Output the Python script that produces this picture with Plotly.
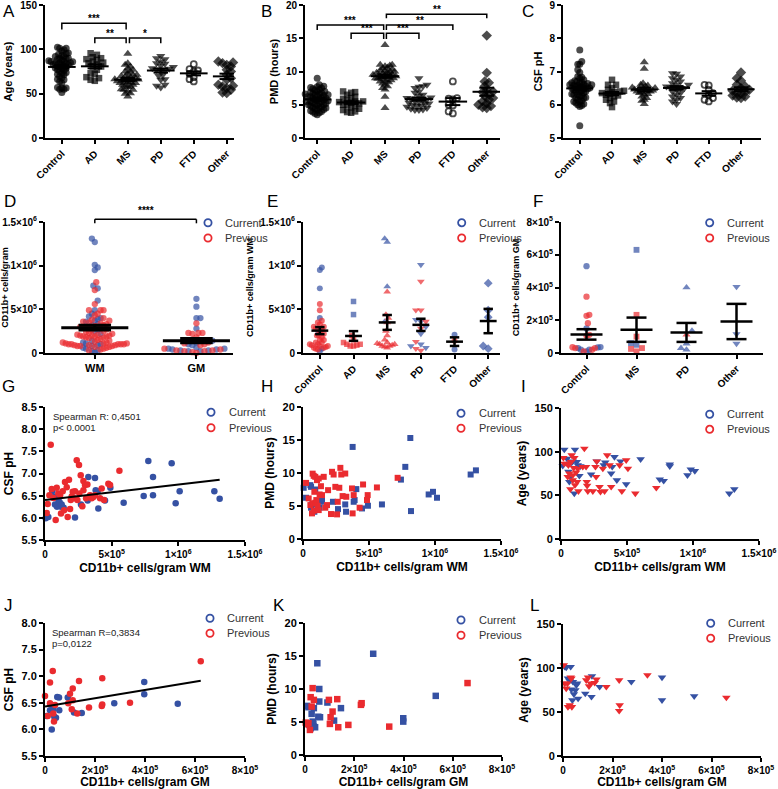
import numpy as np
import plotly.graph_objects as go

W, H = 778, 789
BLUE = "#3551a3"
RED = "#ea2b2f"
FONT = "Liberation Sans, Arial, Helvetica, sans-serif"

# ---------------- data ----------------
groups6 = ["Control", "AD", "MS", "PD", "FTD", "Other"]
groups4 = ["Control", "MS", "PD", "Other"]
regions = ["WM", "GM"]

# A: age (years)
age_control = [102.4, 101.3, 101.3, 99.4, 98, 96, 94.9, 94.5, 93, 92, 91.9, 90, 90, 89.3, 88.9, 88, 87,
               86.3, 86.3, 86, 85, 85, 84.4, 84, 83, 83, 82.5, 82.5, 81.4, 80, 79, 78.8, 78, 76.9, 76.1,
               75, 73.9, 73.1, 72, 71.3, 69.4, 68, 66.4, 65.6, 63.8, 61.9, 57, 56.3, 56.3, 55.1, 55.1, 51.4]
age_ad = [95.6, 93.8, 91.1, 90, 88.9, 88.1, 86.3, 85, 84.4, 83, 80.6, 80.6, 76.9, 73.1, 72.4, 68.6, 67.5, 65.6, 64.5]
age_ms = [94.9, 84.4, 82.5, 80.6, 78.8, 76.9, 75, 75, 73.1, 71.3, 71.3, 70, 69.4, 68.6, 68, 67, 66.4, 66,
          65.6, 65.6, 64, 63.8, 63, 62.6, 62, 61.9, 60, 60, 59, 58.1, 57.4, 55.1, 54.4, 54.4, 52.5, 50.6, 49.9, 46.9]
age_pd = [92.6, 90, 88.9, 86.3, 84.4, 83.6, 81.4, 80, 78.8, 78, 76.9, 76.1, 76.1, 71.3, 70.1, 66.4, 65.6, 60, 58.9, 57]
age_ftd = [83.3, 77.6, 76.1, 75, 72.4, 68.6, 66.4, 63.8]
age_other = [86.3, 86.3, 85.1, 84.4, 82.5, 80.6, 76.9, 75, 71.3, 67.5, 65.6, 60, 58.9, 58.1, 56.3, 54.4, 51.4, 50.6]

# B: PMD (hours)
pmd_control = [9.0, 8.0, 7.8, 7.7, 7.6, 7.5, 7.4, 7.3, 7.2, 7.0, 7.0, 6.9, 6.8, 6.7, 6.6, 6.6, 6.5, 6.5, 6.4,
               6.3, 6.2, 6.2, 6.1, 6.0, 6.0, 5.9, 5.8, 5.7, 5.6, 5.6, 5.5, 5.5, 5.4, 5.3, 5.2, 5.2, 5.1, 5.0,
               5.0, 4.9, 4.8, 4.7, 4.6, 4.5, 4.5, 4.4, 4.3, 4.2, 4.1, 4.0, 3.9, 3.8, 3.7, 3.5]
pmd_ad = [7.0, 6.9, 6.8, 6.5, 6.2, 6.0, 5.9, 5.6, 5.5, 5.5, 5.4, 5.3, 5.2, 5.0, 4.9, 4.8, 4.6, 4.4, 4.2, 4.0, 3.9, 3.8]
pmd_ms = [14.0, 11.0, 11.0, 10.9, 10.8, 10.6, 10.5, 10.3, 10.2, 10.1, 10.0, 10.0, 9.9, 9.8, 9.7, 9.6, 9.5, 9.5,
          9.4, 9.3, 9.3, 9.2, 9.1, 9.0, 9.0, 8.9, 8.8, 8.7, 8.6, 8.5, 8.4, 8.2, 8.0, 7.8, 7.5, 7.3, 6.2, 4.5]
pmd_pd = [9.0, 8.0, 7.8, 7.7, 7.5, 7.0, 6.8, 6.5, 6.3, 6.1, 6.0, 5.9, 5.8, 5.7, 5.6, 5.5, 5.3, 5.2, 5.1, 5.0,
          4.9, 4.8, 4.7, 4.5, 4.4, 4.3, 4.2, 4.2]
pmd_ftd = [8.5, 6.0, 5.9, 5.8, 5.0, 4.9, 4.0, 3.7]
pmd_other = [15.4, 9.8, 8.5, 8.3, 7.8, 7.2, 7.0, 6.9, 6.5, 6.3, 6.0, 5.8, 5.5, 5.2, 5.0, 4.8, 4.6, 4.5]

# C: CSF pH
ph_control = [7.65, 7.30, 7.22, 7.22, 7.05, 6.97, 6.85, 6.83, 6.80, 6.75, 6.72, 6.70, 6.68, 6.66, 6.65, 6.64,
              6.62, 6.60, 6.60, 6.58, 6.58, 6.56, 6.55, 6.55, 6.52, 6.50, 6.50, 6.48, 6.48, 6.45, 6.45, 6.42,
              6.40, 6.40, 6.38, 6.35, 6.32, 6.30, 6.30, 6.28, 6.25, 6.22, 6.20, 6.20, 6.15, 6.12, 6.10, 6.10,
              6.05, 6.02, 6.00, 5.98, 5.95, 5.37]
ph_ad = [6.75, 6.6, 6.6, 6.5, 6.45, 6.42, 6.4, 6.38, 6.35, 6.33, 6.3, 6.28, 6.25, 6.2, 6.15, 6.1, 6.05, 5.93]
ph_ms = [7.28, 7.08, 6.65, 6.6, 6.58, 6.55, 6.52, 6.5, 6.5, 6.48, 6.46, 6.45, 6.43, 6.42, 6.4, 6.4, 6.38, 6.35,
         6.32, 6.3, 6.25, 6.2, 6.15, 6.12, 6.02]
ph_pd = [6.95, 6.93, 6.85, 6.8, 6.75, 6.7, 6.65, 6.6, 6.6, 6.55, 6.52, 6.5, 6.5, 6.45, 6.4, 6.35, 6.3, 6.25,
         6.2, 6.15, 6.1, 6.02]
ph_ftd = [6.6, 6.58, 6.45, 6.35, 6.3, 6.2, 6.15, 6.1]
ph_other = [6.97, 6.8, 6.72, 6.6, 6.55, 6.5, 6.45, 6.42, 6.38, 6.35, 6.33, 6.28, 6.25, 6.22, 6.2]

# D: CD11b+ cells/gram, WM (x1e6) and GM (x1e5)
wm_current_e6 = [1.31, 1.27, 1.01, 0.98, 0.95, 0.77, 0.74, 0.60, 0.49, 0.45, 0.42, 0.40, 0.39, 0.37, 0.36, 0.33,
                 0.32, 0.30, 0.27, 0.25, 0.22, 0.14, 0.12, 0.11, 0.10, 0.09, 0.08, 0.06, 0.05, 0.03, 0.02, 0.01]
wm_previous_e6 = [0.81, 0.72, 0.56, 0.49, 0.49, 0.49, 0.45, 0.43, 0.40, 0.38, 0.37, 0.36, 0.35, 0.34, 0.33, 0.32,
                  0.31, 0.30, 0.30, 0.29, 0.28, 0.27, 0.26, 0.25, 0.24, 0.23, 0.22, 0.21, 0.21, 0.20, 0.20, 0.20,
                  0.19, 0.19, 0.19, 0.18, 0.18, 0.17, 0.16, 0.15, 0.14, 0.13, 0.12, 0.12, 0.11, 0.11, 0.11, 0.10,
                  0.10, 0.10, 0.10, 0.10, 0.09, 0.09, 0.09, 0.08, 0.08, 0.08, 0.07, 0.07, 0.06, 0.05, 0.04, 0.03]
gm_current_e5 = [6.2, 5.3, 4.0, 4.0, 2.8, 1.5, 1.4, 1.2, 1.0, 0.9, 0.6, 0.5, 0.5, 0.4, 0.4, 0.3, 0.3, 0.2, 0.2]
gm_previous_e5 = [3.4, 2.3, 2.3, 2.3, 2.2, 1.8, 1.2, 1.1, 1.0, 0.9, 0.5, 0.4, 0.3, 0.3, 0.2, 0.2, 0.1, 0.0]

# E: CD11b+ cells/gram WM by diagnosis (x1e5), one list per group in groups6 order
e_current_e5 = [[9.5, 9.8, 7.4, 4.0, 2.6, 0.5, 0.2], [5.9, 4.4], [13.1, 12.7, 7.6, 3.6],
                [10.1, 3.8, 3.6, 3.0, 2.2, 1.0, 0.8, 0.6], [2.1, 0.4], [8.0, 4.9, 4.1, 0.8, 0.5]]
e_previous_e5 = [[5.6, 4.9, 3.7, 3.5, 3.3, 3.0, 3.0, 2.8, 2.7, 2.5, 2.2, 2.0, 2.0, 1.8, 1.5, 1.5, 1.2, 1.2,
                  1.0, 1.0, 0.9, 0.8, 0.8, 0.7, 0.6, 0.6, 0.5, 0.4],
                 [2.0, 1.5, 1.2, 1.0, 1.0, 0.9, 0.8, 0.8],
                 [7.0, 4.4, 4.0, 3.5, 2.5, 2.0, 1.5, 1.2, 1.1, 1.0, 1.0, 0.9, 0.8, 0.8, 0.7, 0.6],
                 [8.2, 4.9, 4.9, 3.6, 2.8, 1.3, 0.5, 0.3], [1.4], []]

# F: CD11b+ cells/gram GM by diagnosis (x1e5), groups4 order
f_current_e5 = [[5.3, 1.5, 0.36, 0.34, 0.30, 0.20, 0.20, 0.10], [6.3, 0.6, 0.5],
                [4.0, 1.36, 0.57, 0.30, 0.20], [4.05, 1.15, 0.57]]
f_previous_e5 = [[3.44, 2.33, 2.27, 1.82, 1.11, 1.05, 0.35, 0.30, 0.30, 0.20, 0.10],
                 [2.33, 1.0, 0.30, 0.25, 0.10], [1.11], []]

# G: CSF pH vs CD11b+ WM (x1e6)
g_cur_x = [0.005, 0.025, 0.055, 0.07, 0.075, 0.09, 0.10, 0.11, 0.12, 0.125, 0.14, 0.225, 0.27, 0.32, 0.325,
           0.375, 0.38, 0.395, 0.40, 0.45, 0.49, 0.59, 0.74, 0.775, 0.81, 0.81, 0.95, 0.98, 1.01, 1.27, 1.31]
g_cur_y = [5.99, 6.02, 6.60, 6.47, 6.30, 6.25, 6.40, 6.35, 6.25, 6.30, 6.23, 6.01, 6.30, 6.39, 6.92, 6.90,
           6.62, 6.60, 6.21, 6.39, 6.68, 6.34, 6.49, 7.28, 6.92, 6.51, 7.23, 6.33, 6.60, 6.60, 6.43]
g_prev_x = [0.013, 0.02, 0.033, 0.043, 0.05, 0.063, 0.08, 0.088, 0.10, 0.113, 0.12, 0.133, 0.143, 0.15, 0.163,
            0.17, 0.18, 0.188, 0.193, 0.20, 0.208, 0.218, 0.225, 0.238, 0.243, 0.255, 0.258, 0.268, 0.28, 0.288,
            0.288, 0.30, 0.308, 0.318, 0.338, 0.35, 0.363, 0.375, 0.413, 0.425, 0.443, 0.475, 0.488, 0.558]
g_prev_y = [6.11, 6.31, 6.51, 7.65, 6.65, 6.45, 5.95, 6.68, 6.55, 6.51, 6.10, 6.60, 6.17, 6.81, 6.69, 6.02,
            6.86, 6.20, 6.40, 6.48, 6.59, 6.44, 6.60, 7.30, 6.40, 7.19, 6.55, 6.96, 6.26, 6.83, 6.62, 6.74,
            6.44, 6.75, 6.51, 6.44, 6.47, 6.51, 6.44, 6.66, 6.40, 6.77, 6.74, 7.06]
# regression line: (intercept, slope per cell/gram)
g_fit = (6.40, 3.5e-7)

# H: PMD vs CD11b+ WM (x1e6)
h_cur_x = [0.005, 0.023, 0.056, 0.061, 0.061, 0.068, 0.086, 0.093, 0.111, 0.126, 0.136, 0.144, 0.227, 0.265,
           0.32, 0.326, 0.376, 0.384, 0.391, 0.404, 0.447, 0.492, 0.598, 0.742, 0.775, 0.813, 0.818, 0.952,
           0.985, 1.015, 1.27, 1.31]
h_cur_y = [7.76, 6.25, 8.16, 7.9, 4.74, 5.24, 4.13, 7.5, 4.53, 4.74, 5.64, 5.9, 5.64, 4.53, 5.24, 4.13, 13.95,
           5.64, 5.9, 7.56, 4.63, 5.04, 5.24, 9.0, 10.93, 15.3, 4.23, 6.75, 7.15, 6.25, 9.77, 10.4]
h_prev_x = [0.023, 0.043, 0.056, 0.068, 0.073, 0.076, 0.081, 0.081, 0.086, 0.093, 0.093, 0.101, 0.106, 0.111,
            0.119, 0.119, 0.126, 0.136, 0.144, 0.157, 0.169, 0.182, 0.19, 0.212, 0.22, 0.232, 0.245, 0.258,
            0.263, 0.275, 0.283, 0.29, 0.30, 0.32, 0.328, 0.371, 0.376, 0.384, 0.429, 0.455, 0.485, 0.49,
            0.56, 0.717]
h_prev_y = [8.5, 6.15, 5.14, 3.88, 9.9, 5.39, 9.57, 4.28, 7.15, 9.42, 5.49, 5.9, 8.92, 5.04, 9.17, 4.38, 6.75,
            8.0, 6.65, 9.42, 4.74, 5.14, 7.4, 3.78, 10.18, 9.77, 7.9, 3.73, 5.64, 7.76, 10.78, 9.77, 6.5, 9.92,
            6.4, 7.66, 3.88, 6.65, 4.74, 8.26, 5.9, 6.65, 7.81, 9.27]

# I: Age vs CD11b+ WM (x1e6)
i_cur_x = [0.013, 0.025, 0.046, 0.056, 0.063, 0.071, 0.081, 0.089, 0.101, 0.106, 0.119, 0.127, 0.139, 0.147,
           0.228, 0.271, 0.324, 0.335, 0.38, 0.388, 0.405, 0.423, 0.451, 0.494, 0.603, 0.748, 0.778, 0.824,
           0.824, 0.958, 0.983, 1.014, 1.275, 1.313]
i_cur_y = [83.8, 102.4, 92, 77, 65.5, 71, 87.6, 89, 52.2, 102.4, 88.3, 84.5, 72.4, 83.4, 73.9, 89, 84.5, 87.6,
           75, 82.6, 94, 67.4, 89, 62.8, 91.4, 68.2, 66.6, 85.3, 83.4, 73.1, 79.6, 78, 52.2, 57.1]
i_prev_x = [0.018, 0.025, 0.046, 0.051, 0.056, 0.063, 0.071, 0.076, 0.081, 0.089, 0.089, 0.096, 0.101, 0.106,
            0.114, 0.122, 0.127, 0.132, 0.165, 0.177, 0.19, 0.195, 0.198, 0.203, 0.241, 0.261, 0.266, 0.271,
            0.292, 0.299, 0.317, 0.33, 0.35, 0.368, 0.38, 0.444, 0.461, 0.494, 0.507, 0.563, 0.722]
i_prev_y = [92.9, 86.4, 86.4, 71.2, 84.5, 75, 57.1, 88.3, 96, 73.1, 67.4, 81.5, 92.9, 61.7, 76.2, 65.5, 80.7,
            54.8, 82.6, 103.6, 82.6, 65.5, 61, 54.8, 54.8, 82.6, 71.2, 89, 59.8, 54, 80.7, 54.8, 96, 84.5,
            59.8, 84.5, 54.8, 90.2, 80.7, 52.2, 58.6]

# J: CSF pH vs CD11b+ GM (x1e3)
j_cur_x = [6.7, 20, 27, 29, 33, 37, 44, 49, 56, 57, 91, 116, 147, 277, 397, 397, 531]
j_cur_y = [6.25, 6.36, 6.0, 6.46, 6.39, 6.24, 6.22, 6.61, 6.60, 6.36, 6.60, 6.32, 6.31, 6.49, 6.89, 6.66, 6.48]
j_prev_x = [0, 11, 20, 20, 31, 33, 36, 40, 93, 100, 107, 111, 111, 129, 136, 176, 227, 229, 229, 340, 623]
j_prev_y = [6.63, 6.25, 6.88, 6.49, 7.10, 6.30, 6.15, 6.46, 6.49, 6.67, 6.38, 6.77, 6.55, 6.30, 6.91, 6.41,
            6.44, 6.47, 6.96, 6.50, 7.28]
# regression line: (intercept, slope per cell/gram)
j_fit = (6.43, 7.8e-7)

# K: PMD vs CD11b+ GM (x1e3)
k_cur_x = [7, 14, 18, 23, 27, 31, 34, 36, 41, 36, 50, 54, 58, 58, 61, 91, 118, 146, 277, 399, 399, 531]
k_cur_y = [7.44, 7.24, 4.56, 4.05, 6.23, 5.06, 4.81, 4.3, 4.2, 7.1, 13.9, 5.8, 10.0, 8.1, 5.72, 7.95, 5.21,
           7.1, 15.34, 5.57, 5.06, 8.96]
k_prev_x = [3, 7, 14, 20, 23, 27, 31, 36, 97, 101, 104, 112, 131, 135, 176, 227, 230, 342, 660]
k_prev_y = [4.91, 4.66, 4.81, 3.8, 8.76, 7.34, 10.13, 8.35, 8.35, 4.71, 5.72, 6.58, 8.46, 4.2, 4.56, 7.6,
            7.85, 4.3, 10.9]

# L: Age vs CD11b+ GM (x1e3)
l_cur_x = [7, 13, 31, 20, 27, 34, 38, 40, 44, 50, 54, 57, 61, 90, 115, 117, 148, 276, 400, 400, 530]
l_cur_y = [101.4, 100.6, 101.4, 88.1, 85.4, 75.6, 63.4, 84.3, 70.2, 74.8, 80.5, 82.4, 65.3, 71, 67.2, 90.8,
           78.6, 84.3, 89.2, 63.4, 68]
l_prev_x = [3, 7, 13, 18, 20, 27, 31, 34, 36, 94, 101, 105, 112, 128, 135, 175, 227, 229, 227, 341, 660]
l_prev_y = [103.3, 82.4, 76.7, 82.4, 55.8, 57.7, 89.2, 88.1, 55.8, 86.2, 89.2, 79.4, 82.4, 83.2, 87, 78.6,
            86.2, 57.7, 51.3, 92, 66.4]

spearman_g = ["Spearman R: 0,4501", "p< 0.0001"]
spearman_j = ["Spearman R=0,3834", "p=0,0122"]

# ---------------- layout helpers ----------------
BOX = {1: (45, 234, 5, 138), 2: (305, 500, 5, 138), 3: (563, 761, 5, 138),
       4: (45, 233, 222, 353), 5: (303, 500, 222, 353), 6: (561, 763, 222, 353),
       7: (45, 245, 407, 540), 8: (303, 501, 407, 539), 9: (561, 759, 408, 539),
       10: (45, 245, 623, 756), 11: (305, 502, 623, 755), 12: (563, 761, 624, 756)}
XR = {1: [-0.51, 5.22], 2: [-0.36, 5.39], 3: [-0.52, 5.62], 4: [-0.49, 1.36], 5: [-0.5, 5.35],
      6: [-0.51, 3.53], 7: [0, 1.5e6], 8: [0, 1.5e6], 9: [0, 1.5e6], 10: [0, 8e5], 11: [0, 8e5], 12: [0, 8e5]}
YR = {1: [0, 150], 2: [0, 20], 3: [5, 9], 4: [0, 1.5e6], 5: [0, 1.5e6], 6: [0, 8e5], 7: [5.5, 8.5],
      8: [0, 20], 9: [0, 150], 10: [5.5, 8.0], 11: [0, 20], 12: [0, 150]}

fig = go.Figure()
layout = {}
shapes = []
annotations = []


def ids(n):
    return ("x" if n == 1 else f"x{n}"), ("y" if n == 1 else f"y{n}")


def keys(n):
    return ("xaxis" if n == 1 else f"xaxis{n}"), ("yaxis" if n == 1 else f"yaxis{n}")


def bold(size):
    return dict(family=FONT, size=size, color="black", weight="bold")


def set_axes(n, xtv, xtt, ytv, ytt, ytitle, ytsize=11, xtitle=None, xangle=0, xfs=10, yfs=10):
    x0, x1, y0, y1 = BOX[n]
    xid, yid = ids(n)
    xk, yk = keys(n)
    base = dict(showline=True, linecolor="black", linewidth=2, ticks="outside", ticklen=4, tickwidth=2,
                tickcolor="black", showgrid=False, zeroline=False, fixedrange=True, tickmode="array",
                ticklabeloverflow="allow")
    xa = dict(base, domain=[x0 / W, x1 / W], range=XR[n], anchor=yid, tickvals=xtv, ticktext=xtt,
              tickangle=xangle, tickfont=bold(xfs))
    if xtitle:
        xa["title"] = dict(text=xtitle, font=bold(12), standoff=5)
    ya = dict(base, domain=[1 - y1 / H, 1 - y0 / H], range=YR[n], anchor=xid, tickvals=ytv, ticktext=ytt,
              tickfont=bold(yfs), title=dict(text=ytitle, font=bold(ytsize), standoff=5))
    layout[xk] = xa
    layout[yk] = ya


def px_scales(n):
    x0, x1, y0, y1 = BOX[n]
    return (y1 - y0) / (YR[n][1] - YR[n][0]), (x1 - x0) / (XR[n][1] - XR[n][0])


def swarm(vals, ppy, ppx, d, maxw):
    vals = np.asarray(vals, float)
    if len(vals) == 0:
        return np.zeros(0)
    order = np.argsort(vals, kind="stable")
    placed = []
    offs = np.zeros(len(vals))
    for cnt, i in enumerate(order):
        yp = vals[i] * ppy
        near = [(a, b) for a, b in placed if abs(b - yp) < d]
        sign = 1 if cnt % 2 == 0 else -1
        k = 0
        hit = None
        while hit is None:
            cands = [0.0] if k == 0 else [sign * k * d * 0.5, -sign * k * d * 0.5]
            for c in cands:
                if all((c - a) ** 2 + (yp - b) ** 2 >= d * d for a, b in near):
                    hit = c
                    break
            k += 1
        placed.append((hit, yp))
        offs[i] = hit
    m = np.abs(offs).max()
    if m > maxw:
        offs = offs * maxw / m
    return offs / ppx


SIZE = {"circle": 7, "square": 6.5, "triangle-up": 8, "triangle-down": 8, "circle-open": 6, "diamond": 8}


def columns(n, group_vals, group_cols, syms, d, maxw, mean_hw, sem_hw, lw, size_mul=1.0):
    ppy, ppx = px_scales(n)
    xid, yid = ids(n)
    xs, ys, cs, ss, sz, lws = [], [], [], [], [], []
    mx, my = [], []
    for g, vals in enumerate(group_vals):
        v = np.asarray(vals, float)
        offs = swarm(v, ppy, ppx, d, maxw)
        for val, o, c in zip(v, offs, group_cols[g]):
            xs.append(g + o)
            ys.append(val)
            cs.append(c)
            ss.append(syms[g])
            sz.append(SIZE[syms[g]] * size_mul)
            lws.append(1.8 if syms[g].endswith("open") else 0)
        if len(v) > 1:
            m = float(np.mean(v))
            s = float(np.std(v, ddof=1) / np.sqrt(len(v)))
            mx += [g - mean_hw, g + mean_hw, None, g - sem_hw, g + sem_hw, None,
                   g - sem_hw, g + sem_hw, None, g, g, None]
            my += [m, m, None, m + s, m + s, None, m - s, m - s, None, m - s, m + s, None]
    fig.add_trace(go.Scatter(x=xs, y=ys, mode="markers", xaxis=xid, yaxis=yid, cliponaxis=False,
                             marker=dict(symbol=ss, color=cs, size=sz, line=dict(width=lws, color=cs)),
                             showlegend=False, hoverinfo="skip"))
    fig.add_trace(go.Scatter(x=mx, y=my, mode="lines", xaxis=xid, yaxis=yid, cliponaxis=False,
                             line=dict(color="black", width=lw), showlegend=False, hoverinfo="skip"))


def brackets(n, specs):
    xid, yid = ids(n)
    bx, by = [], []
    for a, b, top, drop, label in specs:
        bx += [a, a, b, b, None]
        by += [drop, top, top, drop, None]
        annotations.append(dict(text=label, x=(a + b) / 2, y=top, xref=xid, yref=yid, showarrow=False,
                                xanchor="center", yanchor="bottom", yshift=-3,
                                font=dict(family=FONT, size=10, color="black", weight="bold")))
    fig.add_trace(go.Scatter(x=bx, y=by, mode="lines", xaxis=xid, yaxis=yid, line=dict(color="black", width=1.5),
                             showlegend=False, hoverinfo="skip"))


def legend(px, py1, py2, tx):
    for py, col, label in ((py1, BLUE, "Current"), (py2, RED, "Previous")):
        shapes.append(dict(type="circle", xref="paper", yref="paper", xsizemode="pixel", ysizemode="pixel",
                           xanchor=px / W, yanchor=1 - py / H, x0=-3.6, x1=3.6, y0=-3.6, y1=3.6,
                           line=dict(color=col, width=1.8), fillcolor="rgba(0,0,0,0)"))
        annotations.append(dict(text=label, xref="paper", yref="paper", x=tx / W, y=1 - py / H, xanchor="left",
                                yanchor="middle", showarrow=False, font=dict(family=FONT, size=11, color="#333333")))


def letter(ch, px, py):
    annotations.append(dict(text=ch, xref="paper", yref="paper", x=px / W, y=1 - py / H, xanchor="left",
                            yanchor="top", showarrow=False, font=dict(family=FONT, size=17, color="black")))


def scatter_panel(n, xc, yc, xp, yp, sym, size, xscale):
    xid, yid = ids(n)
    for xv, yv, col in ((xc, yc, BLUE), (xp, yp, RED)):
        fig.add_trace(go.Scatter(x=np.asarray(xv) * xscale, y=yv, mode="markers", xaxis=xid, yaxis=yid,
                                 cliponaxis=False, marker=dict(symbol=sym, color=col, size=size, line=dict(width=0)),
                                 showlegend=False, hoverinfo="skip"))


def fit_line(n, xs, fit):
    xid, yid = ids(n)
    icpt, slope = fit
    xl = np.array([0.0, float(np.max(xs))])
    fig.add_trace(go.Scatter(x=xl, y=icpt + slope * xl, mode="lines", xaxis=xid, yaxis=yid,
                             line=dict(color="black", width=2), showlegend=False, hoverinfo="skip"))


def sup(m, e):
    return f"{m}×10<sup>{e}</sup>"


# ---------------- row 1: A, B, C ----------------
sym6 = ["circle", "square", "triangle-up", "triangle-down", "circle-open", "diamond"]
blk = lambda lst: ["black"] * len(lst)

age_groups = [age_control, age_ad, age_ms, age_pd, age_ftd, age_other]
pmd_groups = [pmd_control, pmd_ad, pmd_ms, pmd_pd, pmd_ftd, pmd_other]
ph_groups = [ph_control, ph_ad, ph_ms, ph_pd, ph_ftd, ph_other]

set_axes(1, list(range(6)), groups6, [0, 50, 100, 150], ["0", "50", "100", "150"], "Age (years)", xangle=-45)
columns(1, age_groups, [blk(v) for v in age_groups], sym6, 4.2, 13, 0.42, 0.22, 2)
brackets(1, [(0, 1.95, 129.4, 122.5, "***"), (1, 1.95, 112.8, 107, "**"), (2.05, 3, 112.8, 107, "*")])

set_axes(2, list(range(6)), groups6, [0, 5, 10, 15, 20], ["0", "5", "10", "15", "20"], "PMD (hours)", xangle=-45)
columns(2, pmd_groups, [blk(v) for v in pmd_groups], sym6, 4.2, 12, 0.42, 0.22, 2)
brackets(2, [(0, 1.96, 17.0, 16.25, "***"), (1, 1.96, 15.75, 14.9, "***"), (2.04, 3, 15.75, 14.9, "***"),
             (2.04, 4, 17.0, 16.25, "**"), (2.04, 5, 18.6, 18.0, "**")])

set_axes(3, list(range(6)), groups6, [5, 6, 7, 8, 9], ["5", "6", "7", "8", "9"], "CSF pH", xangle=-45)
columns(3, ph_groups, [blk(v) for v in ph_groups], sym6, 4.2, 12, 0.42, 0.22, 2)

# ---------------- row 2: D, E, F ----------------
ytv_wm = [0, 5e5, 1e6, 1.5e6]
ytt_wm = ["0", sup(5, 5), sup(1, 6), sup(1.5, 6)]
set_axes(4, [0, 1], regions, ytv_wm, ytt_wm, "CD11b+ cells/gram", ytsize=9, xfs=11)
d_vals = [list(np.array(wm_current_e6) * 1e6) + list(np.array(wm_previous_e6) * 1e6),
          list(np.array(gm_current_e5) * 1e5) + list(np.array(gm_previous_e5) * 1e5)]
d_cols = [[BLUE] * len(wm_current_e6) + [RED] * len(wm_previous_e6),
          [BLUE] * len(gm_current_e5) + [RED] * len(gm_previous_e5)]
columns(4, d_vals, d_cols, ["circle", "circle"], 5.0, 32, 0.33, 0.16, 3, size_mul=0.9)
# significance bracket above panel D (domain-relative so it is not clipped)
r0, r1 = XR[4]
fx = lambda v: (v - r0) / (r1 - r0)
for (xa_, ya_, xb_, yb_) in [(fx(0), 1.0 + 2.7 / 131, fx(1), 1.0 + 2.7 / 131),
                             (fx(0), 1.0 + 2.7 / 131, fx(0), 1.0 - 1.3 / 131),
                             (fx(1), 1.0 + 2.7 / 131, fx(1), 1.0 - 1.3 / 131)]:
    shapes.append(dict(type="line", xref="x4 domain", yref="y4 domain", x0=xa_, y0=ya_, x1=xb_, y1=yb_,
                       line=dict(color="black", width=1.5)))
annotations.append(dict(text="****", xref="x4 domain", yref="y4 domain", x=fx(0.5), y=1.0 + 2.7 / 131,
                        xanchor="center", yanchor="bottom", yshift=1, showarrow=False,
                        font=dict(family=FONT, size=10, color="black", weight="bold")))

set_axes(5, list(range(6)), groups6, ytv_wm, ytt_wm, "CD11b+ cells/gram WM", ytsize=9, xangle=-45)
e_vals = [list(np.array(c) * 1e5) + list(np.array(p) * 1e5) for c, p in zip(e_current_e5, e_previous_e5)]
e_cols = [[BLUE] * len(c) + [RED] * len(p) for c, p in zip(e_current_e5, e_previous_e5)]
symE = ["circle", "square", "triangle-up", "triangle-down", "circle", "diamond"]
columns(5, e_vals, e_cols, symE, 5.0, 10, 0.25, 0.14, 2.5, size_mul=0.85)

set_axes(6, list(range(4)), groups4, [0, 2e5, 4e5, 6e5, 8e5],
         ["0", sup(2, 5), sup(4, 5), sup(6, 5), sup(8, 5)], "CD11b+ cells/gram GM", ytsize=9, xangle=-45)
f_vals = [list(np.array(c) * 1e5) + list(np.array(p) * 1e5) for c, p in zip(f_current_e5, f_previous_e5)]
f_cols = [[BLUE] * len(c) + [RED] * len(p) for c, p in zip(f_current_e5, f_previous_e5)]
symF = ["circle", "square", "triangle-up", "triangle-down"]
columns(6, f_vals, f_cols, symF, 5.5, 14, 0.32, 0.2, 2.5, size_mul=0.9)

# ---------------- row 3: G, H, I ----------------
xtv_wm = [0, 5e5, 1e6, 1.5e6]
xtt_wm = ["0", sup(5, 5), sup(1, 6), sup(1.5, 6)]
set_axes(7, xtv_wm, xtt_wm, [5.5, 6.0, 6.5, 7.0, 7.5, 8.0, 8.5],
         ["5.5", "6.0", "6.5", "7.0", "7.5", "8.0", "8.5"], "CSF pH", ytsize=12,
         xtitle="CD11b+ cells/gram WM", yfs=11)
scatter_panel(7, g_cur_x, g_cur_y, g_prev_x, g_prev_y, "circle", 6.5, 1e6)
fit_line(7, np.concatenate([g_cur_x, g_prev_x]) * 1e6, g_fit)

set_axes(8, xtv_wm, xtt_wm, [0, 5, 10, 15, 20], ["0", "5", "10", "15", "20"], "PMD (hours)", ytsize=12,
         xtitle="CD11b+ cells/gram WM", yfs=11)
scatter_panel(8, h_cur_x, h_cur_y, h_prev_x, h_prev_y, "square", 6, 1e6)

set_axes(9, xtv_wm, xtt_wm, [0, 50, 100, 150], ["0", "50", "100", "150"], "Age (years)", ytsize=12,
         xtitle="CD11b+ cells/gram WM", yfs=11)
scatter_panel(9, i_cur_x, i_cur_y, i_prev_x, i_prev_y, "triangle-down", 7.5, 1e6)

# ---------------- row 4: J, K, L ----------------
xtv_gm = [0, 2e5, 4e5, 6e5, 8e5]
xtt_gm = ["0", sup(2, 5), sup(4, 5), sup(6, 5), sup(8, 5)]
set_axes(10, xtv_gm, xtt_gm, [5.5, 6.0, 6.5, 7.0, 7.5, 8.0], ["5.5", "6.0", "6.5", "7.0", "7.5", "8.0"],
         "CSF pH", ytsize=12, xtitle="CD11b+ cells/gram GM", yfs=11)
scatter_panel(10, j_cur_x, j_cur_y, j_prev_x, j_prev_y, "circle", 6.5, 1e3)
fit_line(10, np.concatenate([j_cur_x, j_prev_x]) * 1e3, j_fit)

set_axes(11, xtv_gm, xtt_gm, [0, 5, 10, 15, 20], ["0", "5", "10", "15", "20"], "PMD (hours)", ytsize=12,
         xtitle="CD11b+ cells/gram GM", yfs=11)
scatter_panel(11, k_cur_x, k_cur_y, k_prev_x, k_prev_y, "square", 6.5, 1e3)

set_axes(12, xtv_gm, xtt_gm, [0, 50, 100, 150], ["0", "50", "100", "150"], "Age (years)", ytsize=12,
         xtitle="CD11b+ cells/gram GM", yfs=11)
scatter_panel(12, l_cur_x, l_cur_y, l_prev_x, l_prev_y, "triangle-down", 7.5, 1e3)

# ---------------- legends, letters, notes ----------------
legend(208, 222.7, 238, 223)
legend(461.7, 222.7, 238, 476.7)
legend(709.7, 222.7, 238, 724.7)
legend(211, 412.3, 427.7, 226.7)
legend(461, 413.3, 428.3, 476.7)
legend(709.7, 414.3, 429.3, 724.7)
legend(210, 618.3, 633.3, 225.3)
legend(461, 620, 635.3, 476.7)
legend(710.7, 623.3, 638.3, 725.7)

for ch, px, py in [("A", 1, 0), ("B", 259, 0), ("C", 520, 0), ("D", 2, 190), ("E", 265, 190), ("F", 531, 190),
                   ("G", 0, 375), ("H", 259, 375), ("I", 519, 375), ("J", 2, 594), ("K", 271, 594),
                   ("L", 528, 594)]:
    letter(ch, px, py)

for txt, py in zip(spearman_g, [416, 427]):
    annotations.append(dict(text=txt, xref="paper", yref="paper", x=51 / W, y=1 - py / H, xanchor="left",
                            yanchor="middle", showarrow=False, font=dict(family=FONT, size=9.5, color="#222222")))
for txt, py in zip(spearman_j, [632, 643]):
    annotations.append(dict(text=txt, xref="paper", yref="paper", x=50 / W, y=1 - py / H, xanchor="left",
                            yanchor="middle", showarrow=False, font=dict(family=FONT, size=9.5, color="#222222")))

fig.update_layout(width=W, height=H, margin=dict(l=0, r=0, t=0, b=0), template="none",
                  paper_bgcolor="white", plot_bgcolor="white", showlegend=False,
                  font=dict(family=FONT, color="black"), shapes=shapes, annotations=annotations, **layout)
fig.write_html("out.html", config={"displayModeBar": False},
               post_script="document.body.style.margin='0px';document.body.style.overflow='hidden';")
